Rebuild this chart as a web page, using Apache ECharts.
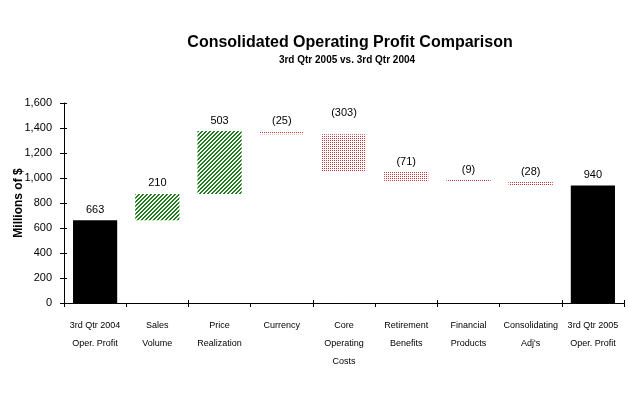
<!DOCTYPE html>
<html>
<head>
<meta charset="utf-8">
<script src="https://cdn.jsdelivr.net/npm/echarts@6/dist/echarts.min.js"></script>
<style>
html,body{margin:0;padding:0;background:#fff;}
#chart{width:628px;height:403px;}
</style>
</head>
<body>
<div id="chart"></div>
<script>
var categories = ['3rd Qtr 2004\nOper. Profit', 'Sales\nVolume', 'Price\nRealization', 'Currency', 'Core\nOperating\nCosts', 'Retirement\nBenefits', 'Financial\nProducts', 'Consolidating\nAdj\'s', '3rd Qtr 2005\nOper. Profit'];
var values = [663, 210, 503, -25, -303, -71, -9, -28, 940];
var isTotal = [true, false, false, false, false, false, false, false, true];
var yTicks = [0, 200, 400, 600, 800, 1000, 1200, 1400, 1600];

function makePattern(size, fn) {
  var c = document.createElement('canvas');
  c.width = size; c.height = size;
  var ctx = c.getContext('2d');
  ctx.fillStyle = '#ffffff';
  ctx.fillRect(0, 0, size, size);
  for (var x = 0; x < size; x++) for (var y = 0; y < size; y++) {
    var col = fn(x, y);
    if (col) { ctx.fillStyle = col; ctx.fillRect(x, y, 1, 1); }
  }
  return c;
}
var greenPat = makePattern(4, function (x, y) { return ((x + y) % 4) < 2 ? '#1f7f1f' : null; });
var redPat = makePattern(2, function (x, y) { return (x === 0 && y === 0) ? '#c23a3a' : null; });

var baseData = [], totalData = [], posData = [], negData = [];
var running = 0;
for (var i = 0; i < values.length; i++) {
  var v = values[i];
  if (isTotal[i]) {
    baseData.push(0); totalData.push(v); posData.push('-'); negData.push('-');
    running = v;
  } else if (v >= 0) {
    baseData.push(running); totalData.push('-'); posData.push(v); negData.push('-');
    running += v;
  } else {
    running += v;
    baseData.push(running); totalData.push('-'); posData.push('-');
    negData.push(i === 4 ? { value: -v, label: { distance: 16 } } : -v);
  }
}

var labelBase = { show: true, position: 'top', distance: 5, color: '#000', fontFamily: 'Arial, Liberation Sans', fontSize: 11 };

var chart = echarts.init(document.getElementById('chart'));
chart.setOption({
  animation: false,
  backgroundColor: '#fff',
  grid: { left: 64, right: 4, top: 103, bottom: 100, containLabel: false, outerBoundsMode: 'none' },
  graphic: [
    { type: 'text', x: 350, y: 43, style: { text: 'Consolidated Operating Profit Comparison', textAlign: 'center', textVerticalAlign: 'middle', font: 'bold 16px "Liberation Sans", Arial', fill: '#000' } },
    { type: 'text', x: 347, y: 60, style: { text: '3rd Qtr 2005 vs. 3rd Qtr 2004', textAlign: 'center', textVerticalAlign: 'middle', font: 'bold 10px "Liberation Sans", Arial', fill: '#000' } }
  ],
  xAxis: [{
    type: 'category',
    data: categories,
    axisLine: { lineStyle: { color: '#000', width: 1 } },
    axisTick: { show: true, length: 4, lineStyle: { color: '#000' } },
    axisLabel: { interval: 0, color: '#000', fontFamily: '"Liberation Sans", Arial', fontSize: 9, lineHeight: 18, margin: 14 }
  }, {
    type: 'category', position: 'bottom',
    data: categories,
    axisLine: { show: false },
    axisTick: { show: true, inside: true, length: 3, lineStyle: { color: '#000' } },
    axisLabel: { show: false }
  }],
  yAxis: [{
    type: 'value', min: 0, max: 1600, interval: 200,
    name: 'Millions of $', nameLocation: 'middle', nameGap: 39, nameRotate: 90, nameMoveOverlap: false,
    nameTextStyle: { color: '#000', fontFamily: 'Arial, Liberation Sans', fontSize: 12, fontWeight: 'bold' },
    axisLine: { show: true, lineStyle: { color: '#000' } },
    axisTick: { show: true, length: 4, lineStyle: { color: '#000' } },
    splitLine: { show: false },
    axisLabel: { color: '#000', fontFamily: 'Arial, Liberation Sans', fontSize: 11, margin: 12,
      formatter: function (v) { return v.toLocaleString('en-US'); } }
  }, {
    type: 'value', min: 0, max: 1600, interval: 200, position: 'left',
    axisLine: { show: false }, axisTick: { show: true, inside: true, length: 3, lineStyle: { color: '#000' } },
    axisLabel: { show: false }, splitLine: { show: false }
  }],
  series: [
    { type: 'bar', stack: 'w', data: baseData, itemStyle: { color: 'rgba(0,0,0,0)' }, barWidth: '71%', silent: true },
    { type: 'bar', stack: 'w', data: totalData, itemStyle: { color: '#000' }, label: labelBase },
    { type: 'bar', stack: 'w', data: posData, itemStyle: { color: { image: greenPat, repeat: 'repeat' } }, label: labelBase },
    { type: 'bar', stack: 'w', data: negData, barMinHeight: 2, itemStyle: { color: { image: redPat, repeat: 'repeat' } },
      label: Object.assign({}, labelBase, { formatter: function (p) { return '(' + p.value + ')'; } }) }
  ]
});
</script>
</body>
</html>
